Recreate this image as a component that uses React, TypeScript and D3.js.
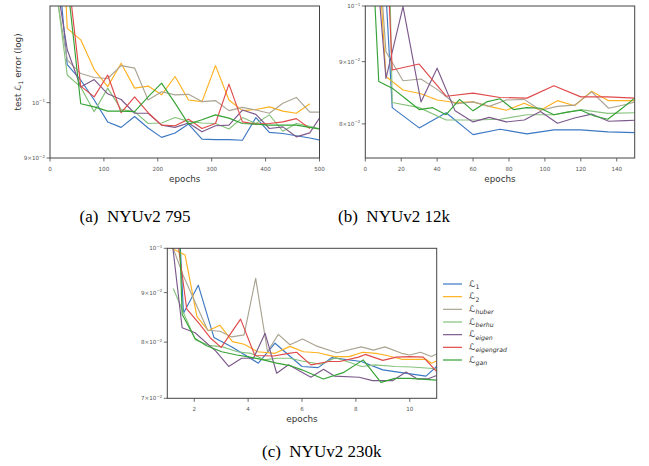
import React from 'react';
import * as d3 from 'd3';

// colours and legend labels
const seriesKeys = ['l1', 'l2', 'huber', 'berhu', 'eigen', 'eigengrad', 'gan'];
const seriesSubs = ['1', '2', 'huber', 'berhu', 'eigen', 'eigengrad', 'gan'];
const seriesColors = ['#3c78c3', '#ffb11f', '#aaa492', '#86c27c', '#7d5a8c', '#e04a4a', '#35a336'];

// (a) NYUv2 795
const epochsA = [7, 32, 57, 82, 107, 132, 157, 182, 207, 232, 257, 282, 307, 332, 357, 382, 407, 432, 457, 482, 507];
const l1A = [0.142, 0.1075, 0.1044, 0.1005, 0.0964, 0.0954, 0.0974, 0.0953, 0.0936, 0.0944, 0.096, 0.0933, 0.0932, 0.0932, 0.0931, 0.0972, 0.0945, 0.0943, 0.0939, 0.0935, 0.093];
const l2A = [0.196, 0.1152, 0.1127, 0.1065, 0.1031, 0.1078, 0.1028, 0.1032, 0.1015, 0.1051, 0.1005, 0.1002, 0.1073, 0.1005, 0.0985, 0.0987, 0.0992, 0.0984, 0.098, 0.0998];
const huberA = [0.1268, 0.1085, 0.1057, 0.1049, 0.1047, 0.1073, 0.1068, 0.1005, 0.1021, 0.1015, 0.1016, 0.1002, 0.1004, 0.0985, 0.0991, 0.0986, 0.098, 0.0999, 0.101, 0.0982, 0.0982];
const berhuA = [0.1288, 0.1054, 0.103, 0.0983, 0.1028, 0.0987, 0.0983, 0.0961, 0.0962, 0.0972, 0.0965, 0.0962, 0.0961, 0.0951, 0.0972, 0.0961, 0.0977, 0.0947, 0.0961, 0.0956, 0.095];
const eigenA = [0.13, 0.1106, 0.103, 0.1045, 0.1017, 0.1006, 0.098, 0.098, 0.0958, 0.0954, 0.0962, 0.0946, 0.0957, 0.0958, 0.0986, 0.0978, 0.0952, 0.0955, 0.0937, 0.0944, 0.0982];
const eigengradA = [0.147, 0.1293, 0.1032, 0.1011, 0.1054, 0.0981, 0.1011, 0.0981, 0.0958, 0.0957, 0.0969, 0.0952, 0.0961, 0.1036, 0.0964, 0.096, 0.0961, 0.0964, 0.097, 0.0952];
const ganA = [0.147, 0.1259, 0.0998, 0.0992, 0.0984, 0.0984, 0.0983, 0.1011, 0.1038, 0.0999, 0.096, 0.0968, 0.0977, 0.0971, 0.0961, 0.096, 0.0958, 0.0958, 0.0958, 0.0954, 0.095];

// (b) NYUv2 12k
const epochsB15 = [7.5, 15, 30, 45, 60, 75, 90, 105, 120, 135, 150];
const epochsB9 = [2, 11.5, 21, 31, 40, 50, 60, 69, 78.5, 88.5, 97.5, 107, 116.5, 126, 135.5, 145, 154];
const epochsB7 = [0, 7.5, 15, 22.5, 30, 37.5, 45, 52.5, 60, 67.5, 75, 82.5, 90, 97.5, 105, 112.5, 120, 127.5, 135, 142.5, 150];
const l1B = [0.131, 0.0825, 0.0794, 0.0817, 0.0784, 0.0792, 0.0785, 0.0791, 0.0791, 0.0788, 0.0787];
const l2B = [0.148, 0.0875, 0.0853, 0.0847, 0.0837, 0.0833, 0.0834, 0.0827, 0.0821, 0.0832, 0.0821, 0.0836, 0.0828, 0.0851, 0.0836, 0.0836, 0.0836];
const huberB = [0.145, 0.0917, 0.0868, 0.0871, 0.0854, 0.0831, 0.0834, 0.0827, 0.0837, 0.0838, 0.0821, 0.0827, 0.0829, 0.085, 0.0824, 0.083, 0.0837];
const berhuB = [0.3, 0.0833, 0.0825, 0.0806, 0.0806, 0.0807, 0.0814, 0.0814, 0.0822, 0.0816, 0.0817];
const eigenB = [0.129, 0.0872, 0.0999, 0.0834, 0.0889, 0.082, 0.0803, 0.081, 0.0803, 0.0806, 0.0819, 0.0801, 0.0809, 0.0815, 0.0804, 0.0805, 0.0806];
const eigengradB = [0.156, 0.0886, 0.0896, 0.0843, 0.0848, 0.0841, 0.084, 0.086, 0.0842, 0.0842, 0.084];
const ganB = [0.145, 0.0867, 0.0856, 0.0839, 0.0822, 0.0825, 0.0814, 0.0838, 0.082, 0.0834, 0.0839, 0.0822, 0.0825, 0.0824, 0.0814, 0.0818, 0.0821, 0.0812, 0.0807, 0.0823, 0.084];

// (c) NYUv2 230k
const l1Cx = [1.45, 1.6, 2.15, 2.73, 3.4, 4.38, 5.0, 5.5, 6.0, 6.6, 7.1, 8.2, 9.0, 9.7, 10.6, 11.0];
const l1C = [0.105, 0.0857, 0.0916, 0.0809, 0.0791, 0.0761, 0.0798, 0.0776, 0.0755, 0.0753, 0.0771, 0.0764, 0.0749, 0.0744, 0.0738, 0.0755];
const l2Cx = [1.1, 1.66, 2.1, 2.52, 2.95, 3.42, 3.85, 4.35, 5.0, 5.55, 6.05, 6.6, 7.2, 7.75, 8.25, 8.75, 9.15, 9.7, 10.6, 10.8, 11.05];
const l2C = [0.1002, 0.0984, 0.085, 0.0822, 0.0833, 0.0801, 0.0796, 0.0782, 0.0779, 0.0792, 0.0782, 0.078, 0.0773, 0.0773, 0.0781, 0.0779, 0.0775, 0.0768, 0.0768, 0.0761, 0.0766];
const huberCx = [1.2, 1.6, 2.0, 2.5, 2.96, 3.39, 3.85, 4.28, 4.72, 5.12, 5.55, 6.02, 6.52, 7.3, 8.2, 8.65, 9.08, 9.7, 10.0, 10.4, 10.8, 11.05];
const huberC = [0.1003, 0.0936, 0.0884, 0.0823, 0.0821, 0.081, 0.0814, 0.0931, 0.0782, 0.0815, 0.0795, 0.0806, 0.0793, 0.078, 0.0791, 0.0785, 0.0791, 0.0779, 0.0776, 0.0781, 0.0773, 0.0779];
const berhuCx = [1.22, 1.72, 2.05, 2.55, 3.05, 3.6, 4.1, 4.6, 5.06, 5.55, 6.0, 6.7, 7.25, 8.22, 8.72, 9.46, 10.07, 11.0];
const berhuC = [0.0909, 0.0843, 0.0804, 0.0794, 0.0791, 0.0782, 0.0779, 0.0767, 0.077, 0.077, 0.0765, 0.0759, 0.0771, 0.0755, 0.0758, 0.0755, 0.0754, 0.0751];
const eigenCx = [1.2, 1.55, 2.03, 2.8, 3.28, 3.76, 4.2, 4.63, 5.06, 5.5, 6.33, 6.8, 7.2, 8.12, 8.62, 9.36, 9.86, 10.28, 10.66, 11.0];
const eigenC = [0.1005, 0.0828, 0.0818, 0.0783, 0.0755, 0.077, 0.077, 0.0817, 0.0743, 0.0758, 0.0736, 0.075, 0.0738, 0.0736, 0.073, 0.073, 0.0745, 0.0733, 0.0733, 0.0739];
const eigengradCx = [1.35, 1.72, 2.2, 2.6, 3.0, 3.72, 4.25, 4.95, 5.5, 5.8, 6.33, 7.0, 7.4, 8.1, 8.35, 9.0, 9.5, 10.0, 10.5, 11.0];
const eigengradC = [0.1035, 0.0866, 0.0835, 0.0808, 0.079, 0.0845, 0.0775, 0.0774, 0.0779, 0.0781, 0.0758, 0.0764, 0.0764, 0.0772, 0.0777, 0.0766, 0.0772, 0.0773, 0.0772, 0.0746];
const ganCx = [1.45, 1.55, 2.03, 2.46, 3.02, 3.58, 4.07, 4.57, 5.06, 5.6, 6.0, 6.79, 7.53, 8.27, 8.93, 9.45, 10.0, 11.0];
const ganC = [0.104, 0.0855, 0.0807, 0.0793, 0.0782, 0.0776, 0.0772, 0.0767, 0.0761, 0.0756, 0.0749, 0.0733, 0.0744, 0.0767, 0.0727, 0.0734, 0.0734, 0.0731];

// ticks
const xTicksA = [0, 100, 200, 300, 400, 500];
const xTicksB = [0, 20, 40, 60, 80, 100, 120, 140];
const xTicksC = [2, 4, 6, 8, 10];
const yTicksA = [0.09, 0.1];
const yTicksB = [0.08, 0.09, 0.1];
const yTicksC = [0.07, 0.08, 0.09, 0.1];

const font = 'DejaVu Sans, sans-serif';
const zip = (xs: number[], ys: number[]) => ys.map((y, i) => [xs[i], y] as [number, number]);

const panelA = [l1A, l2A, huberA, berhuA, eigenA, eigengradA, ganA].map(ys => zip(epochsA, ys));
const panelB = [
  zip(epochsB15, l1B), zip(epochsB9, l2B), zip(epochsB9, huberB), zip(epochsB15, berhuB),
  zip(epochsB9, eigenB), zip(epochsB15, eigengradB), zip(epochsB7, ganB),
];
const panelC = [
  zip(l1Cx, l1C), zip(l2Cx, l2C), zip(huberCx, huberC), zip(berhuCx, berhuC),
  zip(eigenCx, eigenC), zip(eigengradCx, eigengradC), zip(ganCx, ganC),
];

function YTickLabel({ v, x, y }: { v: number; x: number; y: number }) {
  const exp = Math.floor(Math.log10(v) + 1e-9);
  const mant = Math.round(v / Math.pow(10, exp));
  return (
    <text x={x} y={y} dy="0.35em" textAnchor="end" fontSize={5.6} fill="#555" fontFamily={font}>
      {mant !== 1 ? `${mant}×10` : '10'}
      <tspan dy={-2.4} fontSize={4}>{`−${-exp}`}</tspan>
    </text>
  );
}

function Panel({ id, box, xDomain, yDomain, xTicks, yTicks, data }: any) {
  const x = d3.scaleLinear().domain(xDomain).range([box.left, box.right]);
  const y = d3.scaleLog().domain(yDomain).range([box.bottom, box.top]);
  const line = d3.line<[number, number]>().x(d => x(d[0])).y(d => y(d[1]));
  return (
    <g>
      <defs>
        <clipPath id={id}>
          <rect x={box.left} y={box.top} width={box.right - box.left} height={box.bottom - box.top} />
        </clipPath>
      </defs>
      <g clipPath={`url(#${id})`}>
        {data.map((pts: [number, number][], i: number) => (
          <path key={i} d={line(pts) || ''} fill="none" stroke={seriesColors[i]} strokeWidth={1.15} strokeLinejoin="round" />
        ))}
      </g>
      <rect x={box.left} y={box.top} width={box.right - box.left} height={box.bottom - box.top} fill="none" stroke="#444" strokeWidth={1} />
      {xTicks.map((t: number) => (
        <g key={t}>
          <line x1={x(t)} x2={x(t)} y1={box.bottom} y2={box.bottom + 3.5} stroke="#444" strokeWidth={0.8} />
          <text x={x(t)} y={box.bottom + 12.5} textAnchor="middle" fontSize={5.6} fill="#555" fontFamily={font}>{t}</text>
        </g>
      ))}
      {yTicks.map((t: number) => (
        <g key={t}>
          <line x1={box.left - 3.5} x2={box.left} y1={y(t)} y2={y(t)} stroke="#444" strokeWidth={0.8} />
          <YTickLabel v={t} x={box.left - 5} y={y(t)} />
        </g>
      ))}
      <text x={(box.left + box.right) / 2} y={box.bottom + 24} textAnchor="middle" fontSize={8.8} fill="#333" fontFamily={font}>epochs</text>
    </g>
  );
}

export default function App() {
  const boxA = { left: 50, right: 319.5, top: 6, bottom: 158 };
  const boxB = { left: 365.3, right: 634.7, top: 6, bottom: 158 };
  const boxC = { left: 167.3, right: 436.7, top: 248.3, bottom: 398.3 };
  const legendY = d3.scaleLinear().domain([0, 6]).range([284, 360]);
  const caption = { fontFamily: 'Liberation Serif, Times New Roman, serif', fontSize: 17, fill: '#000' };
  return (
    <div style={{ position: 'absolute', left: 0, top: 0 }}>
      <svg width={649} height={466} style={{ display: 'block', background: '#fff' }}>
        <Panel id="clipA" box={boxA} xDomain={[0, 500]} yDomain={[0.09, 0.1202]} xTicks={xTicksA} yTicks={yTicksA} data={panelA} />
        <Panel id="clipB" box={boxB} xDomain={[0, 150]} yDomain={[0.075, 0.1]} xTicks={xTicksB} yTicks={yTicksB} data={panelB} />
        <Panel id="clipC" box={boxC} xDomain={[1, 11]} yDomain={[0.07, 0.1]} xTicks={xTicksC} yTicks={yTicksC} data={panelC} />

        <text transform="translate(21,72) rotate(-90)" textAnchor="middle" fontSize={8.8} fill="#333" fontFamily={font}>
          test ℒ<tspan dy={2} fontSize={6.2}>1</tspan><tspan dy={-2}> error (log)</tspan>
        </text>

        {seriesKeys.map((k, i) => (
          <g key={k}>
            <line x1={443} x2={462} y1={legendY(i)} y2={legendY(i)} stroke={seriesColors[i]} strokeWidth={1.2} />
            <text x={469} y={legendY(i)} dy="0.3em" fontSize={9} fill="#333" fontFamily={font}>
              ℒ<tspan dy={2.2} fontSize={6.2} fontStyle={i > 1 ? 'italic' : 'normal'}>{seriesSubs[i]}</tspan>
            </text>
          </g>
        ))}

        <text x={135} y={222} textAnchor="middle" style={{ whiteSpace: 'pre' }} {...caption}>(a)  NYUv2 795</text>
        <text x={394} y={222} textAnchor="middle" style={{ whiteSpace: 'pre' }} {...caption}>(b)  NYUv2 12k</text>
        <text x={321.7} y={457} textAnchor="middle" style={{ whiteSpace: 'pre' }} {...caption}>(c)  NYUv2 230k</text>
      </svg>
    </div>
  );
}
